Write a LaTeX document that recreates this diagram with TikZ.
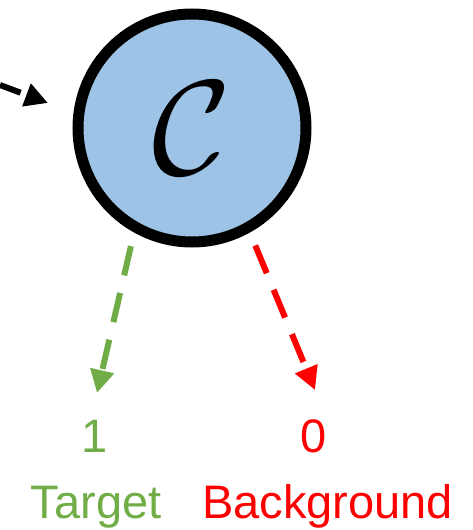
\documentclass[tikz,border=0pt]{standalone}
\usepackage{fontspec}
\usepackage{graphicx}
\setmainfont{Liberation Sans}
\usetikzlibrary{arrows.meta}
\definecolor{cfill}{HTML}{9DC3E6}
\definecolor{tgreen}{HTML}{70AD47}
\definecolor{bred}{HTML}{FF0000}
\begin{document}
\begin{tikzpicture}[x=1pt,y=-1pt,
  bigcircle/.style={circle,draw=black,fill=cfill,line width=11pt,minimum size=228pt,inner sep=0pt},
  dasharrow/.style={line width=6pt,dash pattern=on 30pt off 18pt,-{Triangle[length=23pt,width=23pt]}},
  lbl/.style={font=\fontsize{47}{47}\selectfont,anchor=base,inner sep=0pt}]
\useasboundingbox (0,0) rectangle (473,530);
\node[bigcircle] (c) at (192,128) {\scalebox{13.5}{$\mathcal{C}$}};
\coordinate (in) at (0,85);
\coordinate (inend) at (48,103);
\coordinate (gt) at (97,393);
\coordinate (rt) at (315,390);
\draw[dasharrow,black,dash phase=8pt] (in) -- (inend);
\draw[dasharrow,tgreen,shorten <=14pt] (c.241) -- (gt);
\draw[dasharrow,bred,shorten <=14pt] (c.299) -- (rt);
\node[lbl,text=tgreen] (one) at (95,452) {1};
\node[lbl,text=bred] (zero) at (314,452) {0};
\node[lbl,text=tgreen] (target) at (96,518) {Target};
\node[lbl,text=bred] (bg) at (327.5,518) {Background};
\end{tikzpicture}
\end{document}
